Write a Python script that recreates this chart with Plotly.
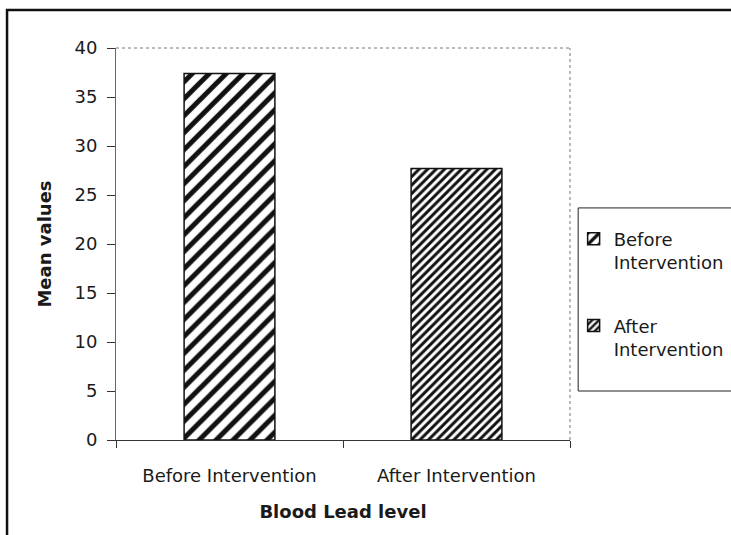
import plotly.graph_objects as go

# Mean blood lead level before and after the intervention
categories = ["Before Intervention", "After Intervention"]
series_names = ["Before<br>Intervention", "After<br>Intervention"]
mean_values = [37.4, 27.7]
y_ticks = [0, 5, 10, 15, 20, 25, 30, 35, 40]

FONT = "DejaVu Sans, Arial, sans-serif"
TEXT = "#1a1a1a"

# hatch density differs between the two bars
hatch_sizes = [12, 6]
hatch_solidity = [0.42, 0.5]

fig = go.Figure()
for i, cat in enumerate(categories):
    fig.add_trace(go.Bar(
        x=[cat],
        y=[mean_values[i]],
        name=series_names[i],
        legendgroup=f"g{i}",
        width=0.4,
        offset=-0.2,
        marker=dict(
            color="white",
            line=dict(color="#111", width=1.5),
            pattern=dict(shape="/", fgcolor="#111", bgcolor="white",
                         fgopacity=1, size=hatch_sizes[i],
                         solidity=hatch_solidity[i]),
        ),
        showlegend=True,
    ))

fig.update_layout(
    width=731, height=535,
    margin=dict(l=116, r=161, t=48, b=95, pad=0, autoexpand=False),
    paper_bgcolor="white", plot_bgcolor="white",
    font=dict(family=FONT, size=18, color=TEXT),
    barmode="overlay",
    showlegend=True,
    legend=dict(
        x=1.008, xanchor="left", y=0.56, yanchor="top",
        bgcolor="rgba(0,0,0,0)", borderwidth=0,
        font=dict(family=FONT, size=18, color=TEXT),
        tracegroupgap=37, valign="top", itemwidth=30,
    ),
    xaxis=dict(
        type="category", range=[-0.5, 1.5],
        showline=True, linecolor="#333", linewidth=1,
        ticks="outside", tickson="boundaries", ticklen=7, tickcolor="#333",
        ticklabelstandoff=19, showgrid=False, zeroline=False,
        tickfont=dict(family=FONT, size=18, color=TEXT),
        title=dict(text="<b>Blood Lead level</b>", standoff=20,
                   font=dict(family=FONT, size=18, color=TEXT)),
    ),
    yaxis=dict(
        range=[0, 40], tickvals=y_ticks,
        showline=True, linecolor="#666", linewidth=1,
        ticks="outside", ticklen=8, tickcolor="#333",
        ticklabelstandoff=6, showgrid=False, zeroline=False,
        tickfont=dict(family=FONT, size=18, color=TEXT),
        title=dict(text="<b>Mean values</b>", standoff=18,
                   font=dict(family=FONT, size=18, color=TEXT)),
    ),
    shapes=[
        # outer chart frame (runs past the right and bottom edges)
        dict(type="rect", xref="paper", yref="paper",
             x0=-0.240, x1=3.0, y0=-0.6, y1=1.0969,
             line=dict(color="#111", width=2.5), fillcolor="rgba(0,0,0,0)",
             layer="below"),
        # legend frame
        dict(type="rect", xref="paper", yref="paper",
             x0=1.018, x1=3.0, y0=0.125, y1=0.592,
             line=dict(color="#222", width=1), fillcolor="white",
             layer="below"),
        # plot area border (top and right)
        dict(type="line", xref="paper", yref="paper", x0=0, x1=1, y0=1, y1=1,
             line=dict(color="#777", width=1, dash="dot")),
        dict(type="line", xref="paper", yref="paper", x0=1, x1=1, y0=0, y1=1,
             line=dict(color="#777", width=1, dash="dot")),
    ],
)

fig.write_html("out.html")
